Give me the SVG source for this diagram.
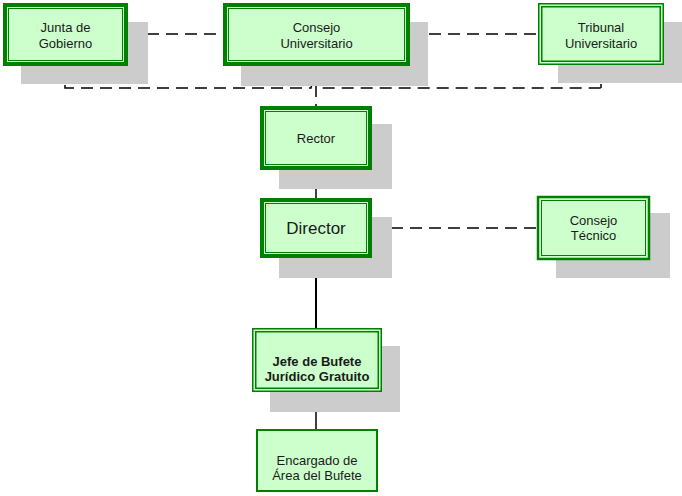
<svg xmlns="http://www.w3.org/2000/svg" width="682" height="496" viewBox="0 0 682 496">
<style>
.sh{fill:#cccccc}
.box{fill:#ccffcc}
.g{fill:none;stroke:#008000}
.t{font-family:"Liberation Sans",Arial,sans-serif;font-size:13px;fill:#1a1a1a;text-anchor:middle}
.b{font-weight:bold}
.d{fill:none;stroke:#000;stroke-width:1.5;stroke-dasharray:12,7}
.s{fill:none;stroke:#000;stroke-width:1.5}
</style>
<rect width="682" height="496" fill="#fff"/>
<g id="connectors">
<path class="d" d="M128,34 H223"/>
<path class="d" d="M410,34 H538"/>
<path class="d" d="M65,66 V88 H311 A5,5 0 0 1 321,88 H601"/>
<path class="d" d="M601,65 V88" style="stroke-dasharray:16,3,4,0"/>
<path class="d" d="M316,66 V106"/>
<path class="s" d="M316,170 V198"/>
<path class="d" d="M372,228 H537"/>
<path class="s" d="M316,258 V328" style="stroke-width:2"/>
<path class="s" d="M316,392 V429"/>
</g>
<g id="junta">
<rect class="sh" x="21" y="22" width="127" height="62"/>
<rect class="box" x="3" y="3" width="125" height="63"/>
<rect class="g" x="5" y="5" width="121" height="59" stroke-width="4"/>
<rect class="g" x="8.5" y="8.5" width="114" height="52" stroke-width="1"/>
<text class="t" x="65.5" y="31.5">Junta de</text>
<text class="t" x="65.5" y="47.5">Gobierno</text>
</g>
<g id="consejo-universitario">
<rect class="sh" x="241" y="22" width="187" height="64"/>
<rect class="box" x="223" y="3" width="187" height="63"/>
<rect class="g" x="225" y="5" width="183" height="59" stroke-width="4"/>
<rect class="g" x="228.5" y="8.5" width="176" height="52" stroke-width="1"/>
<text class="t" x="316.5" y="31.5">Consejo</text>
<text class="t" x="316.5" y="47.5">Universitario</text>
</g>
<g id="tribunal">
<rect class="sh" x="558" y="22" width="124" height="61"/>
<rect class="box" x="538" y="3" width="126" height="62"/>
<rect class="g" x="538.75" y="3.75" width="124.5" height="60.5" stroke-width="1.5"/>
<rect class="g" x="541.75" y="6.75" width="118.5" height="54.5" stroke-width="1.5"/>
<text class="t" x="601" y="31.5">Tribunal</text>
<text class="t" x="601" y="47.5">Universitario</text>
</g>
<g id="rector">
<rect class="sh" x="279" y="124" width="113" height="65"/>
<rect class="box" x="260" y="106" width="112" height="64"/>
<rect class="g" x="262" y="108" width="108" height="60" stroke-width="4"/>
<rect class="g" x="265.5" y="111.5" width="101" height="53" stroke-width="1"/>
<text class="t" x="316" y="142.5">Rector</text>
</g>
<g id="director">
<rect class="sh" x="279" y="217" width="113" height="61"/>
<rect class="box" x="260" y="198" width="112" height="60"/>
<rect class="g" x="262" y="200" width="108" height="56" stroke-width="4"/>
<rect class="g" x="265.5" y="203.5" width="101" height="49" stroke-width="1"/>
<text class="t" x="316" y="234" style="font-size:17px">Director</text>
</g>
<g id="consejo-tecnico">
<rect class="sh" x="556" y="213" width="114" height="65"/>
<rect class="box" x="537" y="196" width="113" height="64"/>
<rect class="g" x="538" y="197" width="111" height="62" stroke-width="2.5"/>
<rect class="g" x="541.5" y="200.5" width="104" height="55" stroke-width="1"/>
<text class="t" x="593.5" y="224.5">Consejo</text>
<text class="t" x="593.5" y="239.5">Técnico</text>
</g>
<g id="jefe">
<rect class="sh" x="270" y="346" width="130" height="66"/>
<rect class="box" x="252" y="328" width="130" height="64"/>
<rect class="g" x="252.75" y="328.75" width="128.5" height="62.5" stroke-width="1.5"/>
<rect class="g" x="255.75" y="331.75" width="122.5" height="56.5" stroke-width="1.5"/>
<text class="t b" x="317" y="365.5">Jefe de Bufete</text>
<text class="t b" x="317" y="380.5">Jurídico Gratuito</text>
</g>
<g id="encargado">
<rect class="box" x="256" y="429" width="122" height="63"/>
<rect class="g" x="257" y="430" width="120" height="61" stroke-width="2"/>
<text class="t" x="317" y="464.5">Encargado de</text>
<text class="t" x="317" y="479.5">Área del Bufete</text>
</g>
</svg>
